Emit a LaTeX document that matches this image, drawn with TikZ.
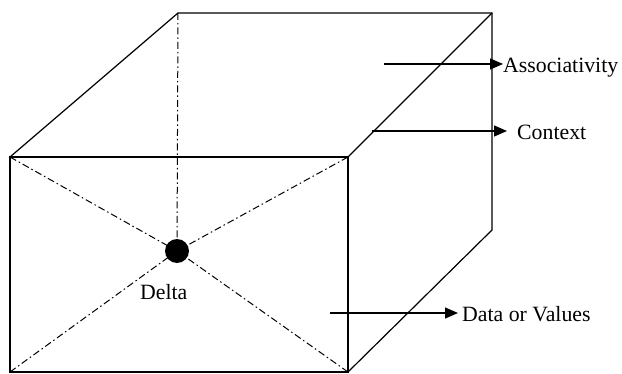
\documentclass[tikz,border=0pt]{standalone}
\usepackage{fontspec}
\setmainfont{Liberation Serif}
\usetikzlibrary{arrows.meta}
\begin{document}
\begin{tikzpicture}[x=1pt,y=-1pt,
  edge/.style={line width=1.2pt},
  hidden/.style={line width=1pt,dash pattern=on 7pt off 3pt on 1.5pt off 3pt},
  pointer/.style={line width=1.2pt,-{Triangle[length=13pt,width=11pt]}},
  lbl/.style={font=\fontsize{21.8}{24}\selectfont,inner sep=0pt,anchor=base west}]
\useasboundingbox (0,0) rectangle (622,374);
% corners
\coordinate (ftl) at (10,157);
\coordinate (ftr) at (348,157);
\coordinate (fbl) at (10,372);
\coordinate (fbr) at (348,372);
\coordinate (btl) at (178,13);
\coordinate (btr) at (492,13);
\coordinate (bbr) at (492,230);
\coordinate (dot) at (177,251);
% hidden lines
\draw[hidden] (btl) -- (dot);
\draw[hidden] (ftl) -- (dot);
\draw[hidden] (ftr) -- (dot);
\draw[hidden] (fbl) -- (dot);
\draw[hidden] (fbr) -- (dot);
% visible edges
\draw[edge] (ftl) rectangle (fbr);
\draw[edge] (ftl) -- (btl) -- (btr) -- (bbr) -- (fbr);
\draw[edge] (ftr) -- (btr);
\fill (dot) circle (12);
% labels
\node[lbl] (delta) at (140,300) {Delta};
\node[lbl] (assoc) at (503,73) {Associativity};
\node[lbl] (ctx) at (517,140) {Context};
\node[lbl] (data) at (462,322) {Data or Values};
% arrows
\coordinate (a0) at (384,64);
\coordinate (a1) at (503,64);
\coordinate (c0) at (372,131);
\coordinate (c1) at (507,131);
\coordinate (d0) at (330,313);
\coordinate (d1) at (458,313);
\draw[pointer] (a0) -- (a1);
\draw[pointer] (c0) -- (c1);
\draw[pointer] (d0) -- (d1);
\end{tikzpicture}
\end{document}
